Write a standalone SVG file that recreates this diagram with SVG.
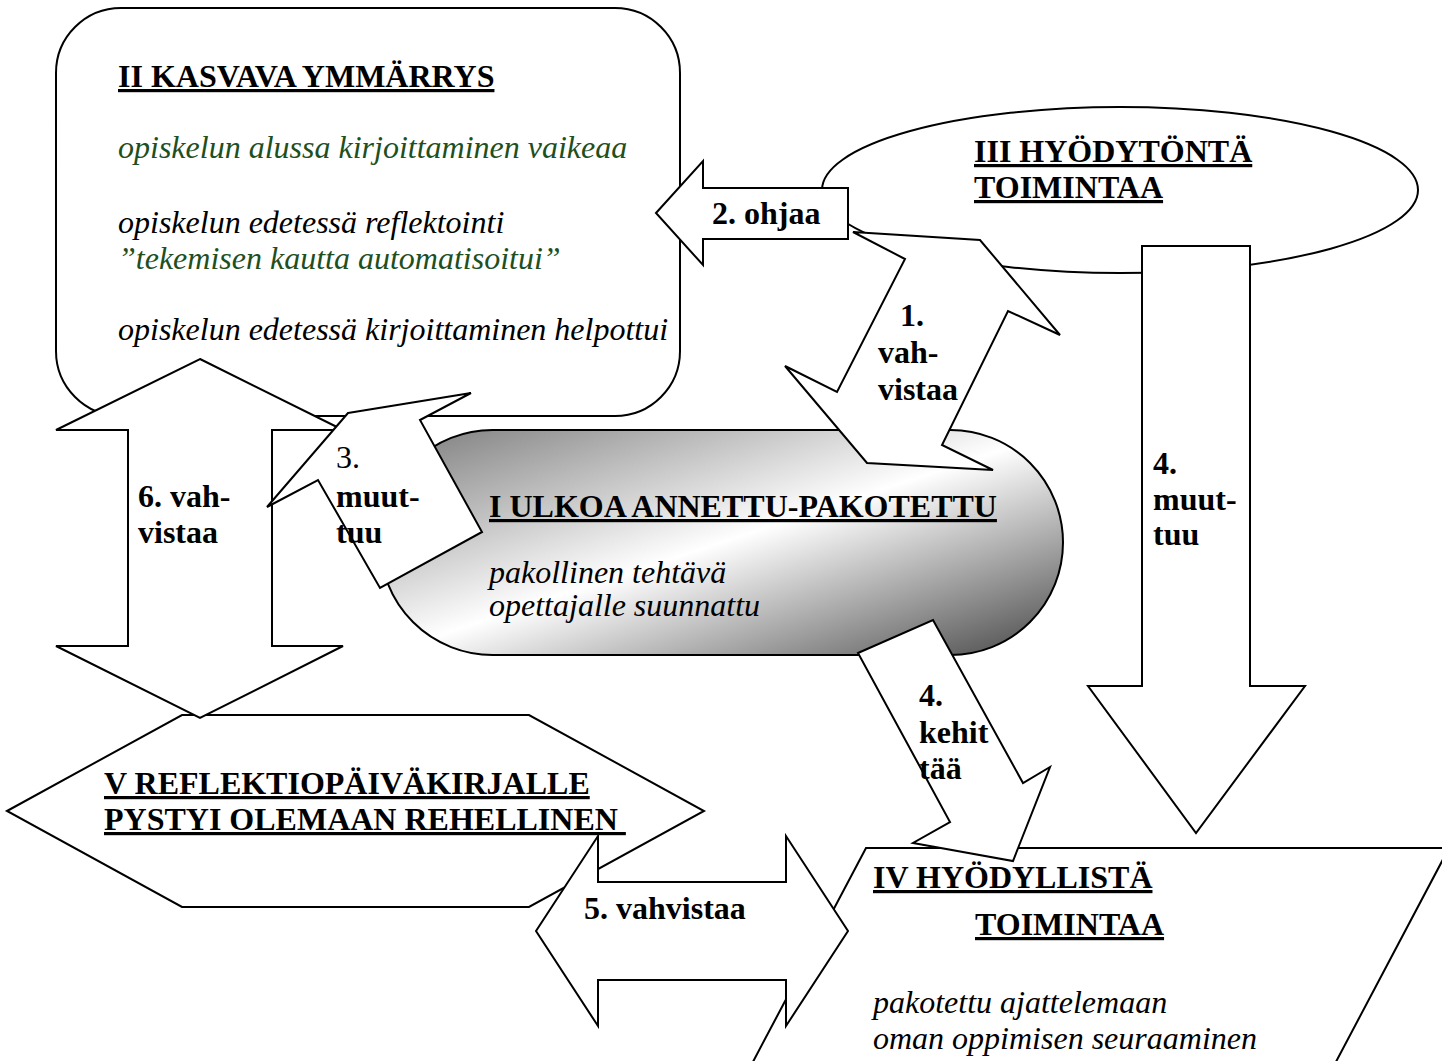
<svg xmlns="http://www.w3.org/2000/svg" width="1442" height="1061" viewBox="0 0 1442 1061">
<defs>
<linearGradient id="gradI" x1="0" y1="0" x2="1" y2="1">
<stop offset="0" stop-color="#7a7a7a"/>
<stop offset="0.5" stop-color="#ffffff"/>
<stop offset="1" stop-color="#474747"/>
</linearGradient>
</defs>
<style>
.sh { fill:#ffffff; stroke:#000000; stroke-width:2; stroke-linejoin:miter; }
.t { font-family:"Liberation Serif","Times New Roman",serif; font-size:32px; fill:#000000; }
.b { font-weight:bold; }
.i { font-style:italic; }
.u { text-decoration:underline; text-decoration-thickness:2.5px; text-underline-offset:5px; white-space:pre; }
.g { fill:#1e4f1e; }
</style>
<rect width="1442" height="1061" fill="#ffffff"/>

<g id="node-II">
<rect class="sh" x="56" y="8" width="624" height="408" rx="65" ry="65"/>
<text class="t b u" x="118" y="87">II KASVAVA YMMÄRRYS</text>
<text class="t i g" x="118" y="158">opiskelun alussa kirjoittaminen vaikeaa</text>
<text class="t i" x="118" y="233">opiskelun edetessä reflektointi</text>
<text class="t i g" x="118" y="269">”tekemisen kautta automatisoitui”</text>
<text class="t i" x="118" y="340">opiskelun edetessä kirjoittaminen helpottui</text>
</g>

<g id="node-III">
<ellipse class="sh" cx="1120" cy="190" rx="298" ry="83"/>
<text class="t b u" x="974" y="162">III HYÖDYTÖNTÄ</text>
<text class="t b u" x="974" y="198">TOIMINTAA</text>
</g>

<g id="node-I">
<rect x="380" y="430" width="683" height="225" rx="112.5" ry="112.5" fill="url(#gradI)" stroke="#000000" stroke-width="2"/>
<text class="t b u" x="489" y="517">I ULKOA ANNETTU-PAKOTETTU</text>
<text class="t i" x="489" y="583">pakollinen tehtävä</text>
<text class="t i" x="489" y="616">opettajalle suunnattu</text>
</g>

<g id="node-V">
<polygon class="sh" points="7,811 182,715 529,715 704,811 529,907 182,907"/>
<text class="t b u" x="104" y="794">V REFLEKTIOPÄIVÄKIRJALLE</text>
<text class="t b u" x="104" y="830">PYSTYI OLEMAAN REHELLINEN </text>
</g>

<g id="node-IV">
<polygon class="sh" points="866,848 1449,848 1329,1075 746,1075"/>
<text class="t b u" x="873" y="888">IV HYÖDYLLISTÄ</text>
<text class="t b u" x="975" y="935">TOIMINTAA</text>
<text class="t i" x="873" y="1013">pakotettu ajattelemaan</text>
<text class="t i" x="873" y="1049">oman oppimisen seuraaminen</text>
</g>

<g id="connectors">
<g id="arrow-6">
<polygon class="sh" points="200,359 343,430 272,430 272,646 343,646 200,718 56,646 128,646 128,430 56,430"/>
<text class="t b" x="138" y="507">6. vah-</text>
<text class="t b" x="138" y="543">vistaa</text>
</g>
<g id="arrow-2">
<polygon class="sh" points="656,213 703,161 703,188 848,188 848,239 703,239 703,265"/>
<text class="t b" x="712" y="224">2. ohjaa</text>
</g>
<g id="arrow-1">
<polygon class="sh" points="853,232 980,240 1060,335 1008,311 942,445 993,470 867,463 785,366 837,392 905,259"/>
<text class="t b" x="900" y="326">1.</text>
<text class="t b" x="878" y="363">vah-</text>
<text class="t b" x="878" y="400">vistaa</text>
</g>
<g id="arrow-3">
<polygon class="sh" points="348,413 471,393 420,420 482,532 380,588 318,480 267,507"/>
<text class="t" x="336" y="468">3.</text>
<text class="t b" x="336" y="507">muut-</text>
<text class="t b" x="336" y="543">tuu</text>
</g>
<g id="arrow-4a">
<polygon class="sh" points="1142,246 1250,246 1250,686 1305,686 1196,833 1088,686 1142,686"/>
<text class="t b" x="1153" y="474">4.</text>
<text class="t b" x="1153" y="510">muut-</text>
<text class="t b" x="1153" y="545">tuu</text>
</g>
<g id="arrow-4b">
<polygon class="sh" points="858,653 933,620 1023,783 1050,767 1013,861 913,843 950,822"/>
<text class="t b" x="919" y="706">4.</text>
<text class="t b" x="919" y="743">kehit</text>
<text class="t b" x="919" y="779">tää</text>
</g>
<g id="arrow-5">
<polygon class="sh" points="536,931 598,836 598,882 786,882 786,836 848,931 786,1026 786,980 598,980 598,1026"/>
<text class="t b" x="584" y="919">5. vahvistaa</text>
</g>
</g>
</svg>
